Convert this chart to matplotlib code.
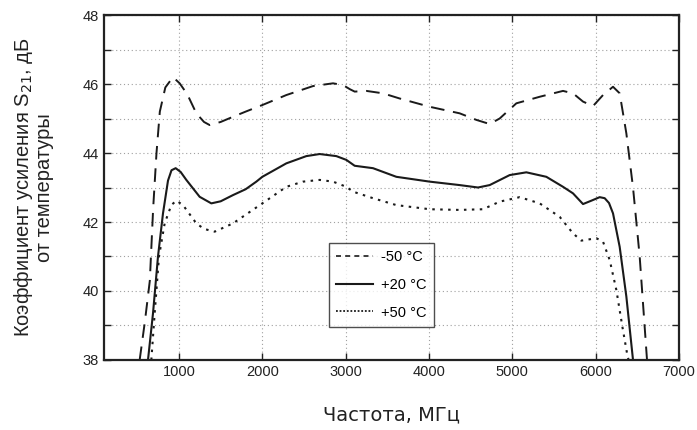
import matplotlib
matplotlib.use("Agg")
import matplotlib.pyplot as plt
from matplotlib.ticker import MultipleLocator, FixedLocator
from matplotlib.lines import Line2D

# -50 °C
freq_m50 = [528, 590, 650, 690, 730, 770, 836, 928, 1008, 1100, 1208, 1300, 1368, 1500, 1648,
            1800, 2000, 2288, 2608, 2848, 2968, 3050, 3108, 3248, 3448, 3648, 4008, 4368, 4568,
            4728, 4848, 5048, 5328, 5608, 5728, 5848, 5968, 6088, 6208, 6288, 6368, 6448, 6528, 6616]
gain_m50 = [38.0, 39.1, 40.3, 42.4, 44.0, 45.2, 45.9, 46.2, 46.02, 45.7, 45.15, 44.9, 44.81, 44.9, 45.05,
            45.2, 45.39, 45.68, 45.94, 46.02, 45.97, 45.85, 45.78, 45.8, 45.73, 45.58, 45.34, 45.15, 44.96,
            44.84, 45.0, 45.44, 45.63, 45.8, 45.73, 45.49, 45.36, 45.68, 45.92, 45.73, 44.57, 43.0, 41.0, 38.0]

# +20 °C
freq_p20 = [628, 688, 748, 808, 868, 910, 960, 1020, 1088, 1248, 1388, 1500, 1648, 1800, 1928, 2000,
            2288, 2528, 2688, 2888, 3008, 3108, 3328, 3608, 4008, 4368, 4588, 4728, 4968, 5168, 5408,
            5608, 5728, 5848, 5950, 6048, 6108, 6160, 6208, 6288, 6368, 6448]
gain_p20 = [38.0, 39.35, 41.0, 42.25, 43.2, 43.5, 43.56, 43.45, 43.22, 42.73, 42.54, 42.6, 42.78, 42.95, 43.17, 43.31,
            43.7, 43.91, 43.97, 43.91, 43.8, 43.63, 43.56, 43.31, 43.17, 43.07, 43.0, 43.07, 43.36, 43.44, 43.31,
            43.02, 42.83, 42.52, 42.62, 42.72, 42.69, 42.55, 42.25, 41.28, 39.84, 38.0]

# +50 °C
freq_p50 = [668, 708, 760, 828, 908, 968, 1048, 1208, 1300, 1428, 1648, 2000, 2288, 2488, 2688, 2848,
            3008, 3088, 3328, 3608, 4008, 4368, 4648, 4848, 5088, 5328, 5568, 5728, 5828, 6008, 6088,
            6168, 6248, 6320, 6380, 6395]
gain_p50 = [38.0, 39.35, 41.0, 41.96, 42.49, 42.62, 42.49, 41.96, 41.8, 41.72, 41.96, 42.54, 43.02, 43.17, 43.22, 43.17,
            43.02, 42.88, 42.69, 42.49, 42.37, 42.35, 42.37, 42.59, 42.72, 42.54, 42.15, 41.67, 41.46, 41.53, 41.43,
            40.9, 40.03, 38.97, 38.14, 38.0]

legend_labels = ["-50 °C", "+20 °C", "+50 °C"]
x_ticks = [1000, 2000, 3000, 4000, 5000, 6000, 7000]

fig = plt.figure(figsize=(6.97, 4.30), dpi=100)
ax = fig.add_axes([0.1492, 0.1628, 0.8250, 0.8023])

c = "#1a1a1a"
ax.plot(freq_m50, gain_m50, color=c, lw=1.4, dashes=(7, 4.5))
ax.plot(freq_p20, gain_p20, color=c, lw=1.5, linestyle="-")
ax.plot(freq_p50, gain_p50, color=c, lw=1.5, dashes=(1.2, 2.6))

ax.set_xlim(100, 7000)
ax.set_ylim(38, 48)
ax.xaxis.set_major_locator(FixedLocator(x_ticks))
ax.yaxis.set_major_locator(MultipleLocator(2))
ax.yaxis.set_minor_locator(MultipleLocator(1))
ax.grid(True, which="both", linestyle=(0, (1, 2.5)), color="#a0a0a0", lw=0.8)
ax.tick_params(which="both", direction="in", top=True, right=True, length=5, width=1.0,
               labelsize=10.5, colors="#222222")
for lab in ax.get_xticklabels() + ax.get_yticklabels():
    lab.set_fontfamily("Liberation Sans")
for s in ax.spines.values():
    s.set_linewidth(1.6)
    s.set_color("#222222")

ax.set_xlabel("Частота, МГц", fontsize=14, family="DejaVu Sans", color="#222222", labelpad=19)
ax.set_ylabel("Коэффициент усиления S$_{21}$, дБ\nот температуры", fontsize=14.5,
              family="Liberation Sans", color="#222222", labelpad=21, linespacing=1.0)

handles = [Line2D([], [], color=c, lw=1.2, dashes=(3, 2.5)),
           Line2D([], [], color=c, lw=1.5),
           Line2D([], [], color=c, lw=1.3, dashes=(1, 1))]
leg = ax.legend(handles, legend_labels, loc="lower left", bbox_to_anchor=(0.391, 0.096),
                fancybox=False, frameon=True, edgecolor="#222222", handlelength=2.5,
                prop={"family": "Liberation Sans", "size": 10.5}, labelspacing=0.95,
                borderpad=0.5, handletextpad=0.6, borderaxespad=0)
leg.get_frame().set_linewidth(1.0)

fig.savefig("out.png", dpi=100)
